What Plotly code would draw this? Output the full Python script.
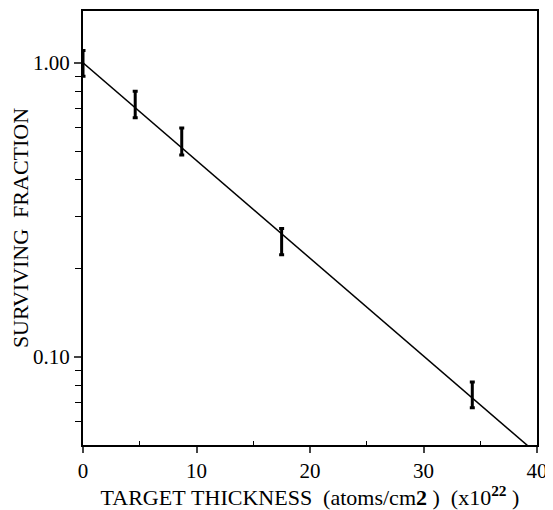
import plotly.graph_objects as go

# Data
thickness = [0.0, 4.6, 8.7, 17.5, 34.3]
surviving = [1.0, 0.715, 0.535, 0.245, 0.0725]
err_plus = [0.10, 0.085, 0.065, 0.028, 0.0095]
err_minus = [0.10, 0.065, 0.05, 0.023, 0.0055]

fit_x = [0.0, 40.0]
fit_y = [1.0, 0.0467]

x_ticks = [0, 10, 20, 30, 40]
x_minor = [5, 15, 25, 35]
y_ticks = [0.1, 1.0]
y_ticktext = ["0.10", "1.00"]
y_minor = [0.06, 0.07, 0.08, 0.09, 0.2, 0.3, 0.4, 0.5, 0.6, 0.7, 0.8, 0.9]

font = "'Liberation Serif', 'Times New Roman', Times, serif"
sp = "&nbsp;"

fig = go.Figure()
fig.add_trace(go.Scatter(x=fit_x, y=fit_y, mode="lines",
                         line=dict(color="black", width=1.5), showlegend=False,
                         hoverinfo="skip"))
fig.add_trace(go.Scatter(x=thickness, y=surviving, mode="markers",
                         marker=dict(size=1, color="black"),
                         error_y=dict(type="data", symmetric=False, array=err_plus,
                                      arrayminus=err_minus, color="black",
                                      thickness=3, width=2.5),
                         showlegend=False, cliponaxis=False))

# page body has an 8px margin; size the figure so the plot lands where the reference has it
fig.update_layout(
    width=545, height=502,
    margin=dict(l=75, r=16, t=3, b=65),
    paper_bgcolor="white", plot_bgcolor="white",
    font=dict(family=font, color="black", size=21),
)
fig.update_xaxes(
    range=[0, 40], tickvals=x_ticks, ticks="outside", ticklen=6, tickwidth=1.5,
    showline=True, linecolor="black", linewidth=2, mirror=True,
    showgrid=False, zeroline=False, automargin=False,
    minor=dict(tickvals=x_minor, ticks="inside", ticklen=4, tickwidth=1, tickcolor="black"),
    tickfont=dict(family=font, size=21),
    title=dict(text=f"TARGET{sp}THICKNESS{sp}{sp}(atoms/cm<b>2</b>{sp}){sp}{sp}(x10<b><sup>22</sup></b>{sp})",
               font=dict(family=font, size=22), standoff=10),
)
fig.update_yaxes(
    type="log", range=[-1.301, 0.176], tickvals=y_ticks, ticktext=y_ticktext,
    ticks="outside", ticklen=7, tickwidth=1.5,
    showline=True, linecolor="black", linewidth=2, mirror=True,
    showgrid=False, zeroline=False, automargin=False,
    minor=dict(tickvals=y_minor, ticks="outside", ticklen=6, tickwidth=1, tickcolor="black"),
    tickfont=dict(family=font, size=21),
    title=dict(text=f"SURVIVING{sp}{sp}FRACTION", font=dict(family=font, size=22), standoff=0),
)

fig.write_html("out.html")
